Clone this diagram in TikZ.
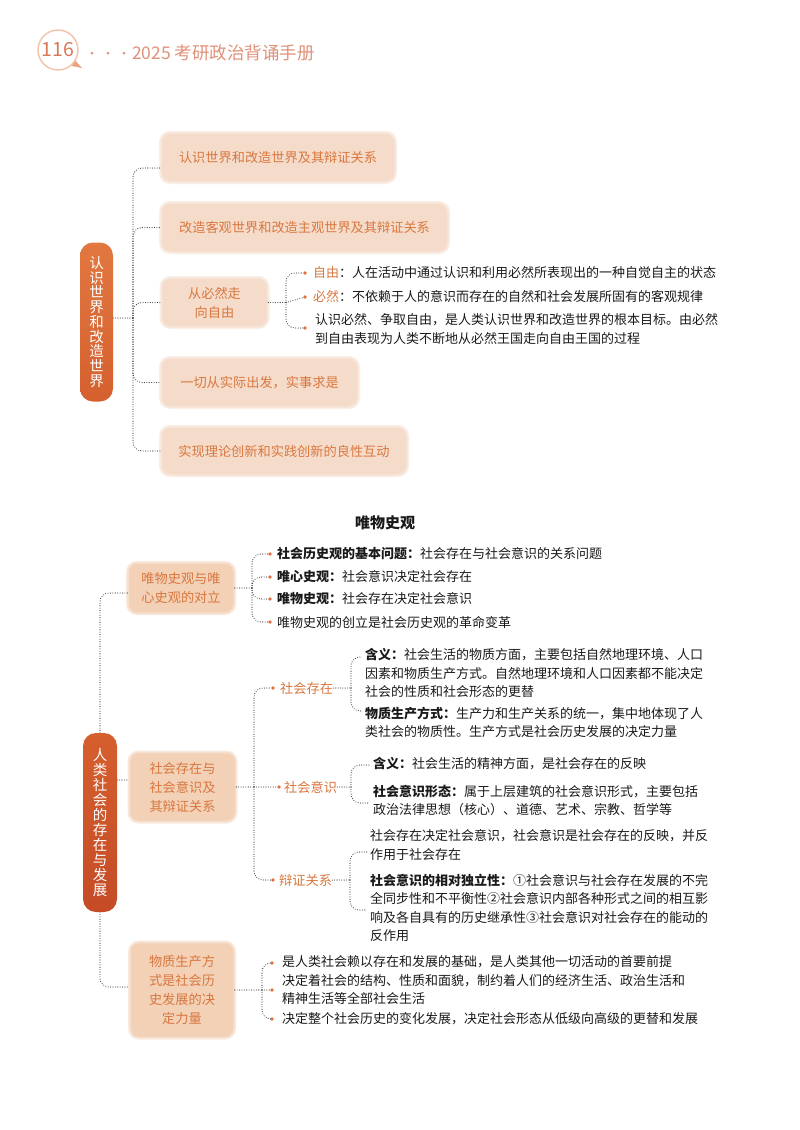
\documentclass[tikz,border=0pt]{standalone}
\usepackage{fontspec}
\setmainfont{Noto Sans CJK SC}
\definecolor{dotc}{HTML}{383838}
\definecolor{oranget}{HTML}{D9773F}
\definecolor{bulc}{HTML}{E2703A}
\definecolor{peachA}{HTML}{F5DCCA}
\definecolor{peachB}{HTML}{F2D1B7}
\definecolor{mainA}{HTML}{E27740}
\definecolor{mainB}{HTML}{D4602E}
\definecolor{mainC}{HTML}{D65F2E}
\definecolor{mainD}{HTML}{C44B26}
\definecolor{hdr}{HTML}{E0917A}
\definecolor{hdrring}{HTML}{F3C2AC}
\definecolor{hdrnum}{HTML}{D9785A}
\definecolor{hdrtail}{HTML}{EBA27E}
\definecolor{txt}{HTML}{1A1A1A}
\newcommand\mybody{\fontsize{13}{18.5}\selectfont}
\newcommand\mybox{\fontsize{13.2}{19}\selectfont}
\newcommand\myvA{\fontsize{14.5}{14.75}\selectfont}
\newcommand\myvB{\fontsize{14.5}{15}\selectfont}
\begin{document}
\begin{tikzpicture}[x=1pt,y=-1pt,
  dotlink/.style={draw=dotc, line width=1.1pt, dash pattern=on 0pt off 2.4pt, line cap=round, rounded corners=9pt},
  topbox/.style={fill=peachA, draw=peachA!70!white, line width=1.5pt, rounded corners=9pt, inner sep=0pt,
     text=oranget, font=\mybox, align=center, preaction={draw=peachA!45!white, line width=4pt}},
  botbox/.style={fill=peachB, draw=peachB!70!white, line width=1.5pt, rounded corners=9pt, inner sep=0pt,
     text=oranget, font=\mybox, align=center, preaction={draw=peachB!45!white, line width=4pt}},
  mainboxA/.style={rounded corners=13pt, inner sep=0pt, text=white, font=\myvA, align=center,
     top color=mainA, bottom color=mainB},
  mainboxB/.style={rounded corners=13pt, inner sep=0pt, text=white, font=\myvB, align=center,
     top color=mainC, bottom color=mainD},
  bul/.style={circle, fill=bulc, inner sep=0pt, minimum size=3.8pt},
  itm/.style={anchor=west, inner sep=0pt, font=\mybody, text=txt, align=left},
  olab/.style={anchor=west, inner sep=0pt, font=\mybox, text=oranget},
  hdot/.style={circle, fill=hdr, inner sep=0pt, minimum size=3pt}
]
\useasboundingbox (0,0) rectangle (800,1130);
\fill[white] (0,0) rectangle (800,1130);

% ---------- header ----------
\fill[hdrtail] (72,57) -- (82,68) -- (67,65) -- cycle;
\node[circle, draw=hdrring, line width=1.4pt, fill=white, minimum size=40pt, inner sep=0pt,
      text=hdrnum, font=\fontsize{19.5}{19.5}\selectfont] (pg) at (58,50) {116};
\node[hdot] (hd1) at (92,53) {};
\node[hdot] (hd2) at (108,53) {};
\node[hdot] (hd3) at (124,53) {};
\node[anchor=west, inner sep=0pt, text=hdr, font=\fontsize{17.5}{18}\selectfont] (htitle) at (132,53) {2025 考研政治背诵手册};

% ---------- top section ----------
\coordinate (j1) at (133,318);
\coordinate (j3) at (286,302.5);
\node[topbox, minimum width=234pt, minimum height=49pt] (b1) at (278,157.5) {认识世界和改造世界及其辩证关系};
\node[topbox, minimum width=287pt, minimum height=49pt] (b2) at (304.5,227.5) {改造客观世界和改造主观世界及其辩证关系};
\node[topbox, minimum width=106pt, minimum height=49pt] (b3) at (214.5,302.5) {从必然走\\向自由};
\node[topbox, minimum width=197pt, minimum height=49pt] (b4) at (259.5,382.5) {一切从实际出发，实事求是};
\node[topbox, minimum width=246pt, minimum height=48pt] (b5) at (284,451) {实现理论创新和实践创新的良性互动};

\draw[dotlink] (j1) |- ([shift={(0,10.5)}]b1.west);
\draw[dotlink] (j1) |- (b2.west);
\draw[dotlink] (j1) |- (b3.west);
\draw[dotlink] (j1) |- (b4.west);
\draw[dotlink] (j1) |- (b5.west);

\node[mainboxA, minimum width=33pt, minimum height=159pt] (mb1) at (96.5,322) {认\\识\\世\\界\\和\\改\\造\\世\\界};
\draw[dotlink] ([shift={(0,-4)}]mb1.east) -- (j1);

\node[bul] (bu31) at (305,273) {};
\node[bul] (bu32) at (305,297) {};
\node[bul] (bu33) at (305,328) {};
\node[itm] (t31) at (313,273) {{\color{oranget}自由}：人在活动中通过认识和利用必然所表现出的一种自觉自主的状态};
\node[itm] (t32) at (313,297) {{\color{oranget}必然}：不依赖于人的意识而存在的自然和社会发展所固有的客观规律};
\node[itm] (t33) at (315,329) {认识必然、争取自由，是人类认识世界和改造世界的根本目标。由必然\\到自由表现为人类不断地从必然王国走向自由王国的过程};
\draw[dotlink] (b3.east) -- (j3);
\draw[dotlink] (j3) |- (bu31);
\draw[dotlink] (j3) -- (bu32);
\draw[dotlink] (j3) |- (bu33);

% ---------- bottom section ----------
\node[inner sep=0pt, font=\bfseries\fontsize{15}{15}\selectfont, text=txt] (title) at (385,523) {唯物史观};

\node[botbox, minimum width=106pt, minimum height=50pt] (B1) at (181,588) {唯物史观与唯\\心史观的对立};
\node[botbox, minimum width=106pt, minimum height=69pt] (B2) at (182.5,787) {社会存在与\\社会意识及\\其辩证关系};
\node[botbox, minimum width=104pt, minimum height=95pt] (B3) at (182,990) {物质生产方\\式是社会历\\史发展的决\\定力量};

\coordinate (mtop) at (100,733);
\coordinate (mbot) at (100,912);
\draw[dotlink] ([shift={(0,5)}]B1.west) -| (mtop);
\draw[dotlink] (mbot) |- ([shift={(0,-3)}]B3.west);
\node[mainboxB, minimum width=34pt, minimum height=179pt] (mb2) at (100,822.5) {人\\类\\社\\会\\的\\存\\在\\与\\发\\展};
\draw[dotlink] ([shift={(0,-42.5)}]mb2.east) -- ([shift={(0,-7)}]B2.west);

% B1 items
\coordinate (jB1) at (252,588);
\node[bul] (bb1) at (270,554) {};
\node[bul] (bb2) at (270,577) {};
\node[bul] (bb3) at (270,599) {};
\node[bul] (bb4) at (270,622) {};
\node[itm] (tb1) at (277,554) {{\bfseries 社会历史观的基本问题：}社会存在与社会意识的关系问题};
\node[itm] (tb2) at (277,577) {{\bfseries 唯心史观：}社会意识决定社会存在};
\node[itm] (tb3) at (277,599) {{\bfseries 唯物史观：}社会存在决定社会意识};
\node[itm] (tb4) at (277,622) {唯物史观的创立是社会历史观的革命变革};
\draw[dotlink] (B1.east) -- (jB1);
\draw[dotlink] (jB1) |- (bb1);
\draw[dotlink] (jB1) |- (bb2);
\draw[dotlink] (jB1) |- (bb3);
\draw[dotlink] (jB1) |- (bb4);

% B2 items
\coordinate (jB2) at (254,787);
\node[bul] (bSE) at (273,688) {};
\node[olab] (tSE) at (280,688) {社会存在};
\node[bul] (bSI) at (279,787) {};
\node[olab] (tSI) at (284,787) {社会意识};
\node[bul] (bBZ) at (273,880) {};
\node[olab] (tBZ) at (279,880) {辩证关系};
\draw[dotlink] (B2.east) -- (jB2);
\draw[dotlink] (jB2) |- (bSE);
\draw[dotlink] (jB2) -- (bSI);
\draw[dotlink] (jB2) |- (bBZ);

\coordinate (jSE) at (351,688);
\coordinate (eSE1) at (362,657);
\coordinate (eSE2) at (362,711);
\node[itm] (SE1) at (365,673) {{\bfseries 含义：}社会生活的物质方面，主要包括自然地理环境、人口\\因素和物质生产方式。自然地理环境和人口因素都不能决定\\社会的性质和社会形态的更替};
\node[itm] (SE2) at (365,722.5) {{\bfseries 物质生产方式：}生产力和生产关系的统一，集中地体现了人\\类社会的物质性。生产方式是社会历史发展的决定力量};
\draw[dotlink] (tSE.east) -- (jSE);
\draw[dotlink] (jSE) |- (eSE1);
\draw[dotlink] (jSE) |- (eSE2);

\coordinate (jSI) at (351,787);
\coordinate (eSI1) at (369,765);
\coordinate (eSI2) at (369,803);
\node[itm] (SI1) at (373,764) {{\bfseries 含义：}社会生活的精神方面，是社会存在的反映};
\node[itm] (SI2) at (373,800.5) {{\bfseries 社会意识形态：}属于上层建筑的社会意识形式，主要包括\\政治法律思想（核心）、道德、艺术、宗教、哲学等};
\draw[dotlink] (tSI.east) -- (jSI);
\draw[dotlink] (jSI) |- (eSI1);
\draw[dotlink] (jSI) |- (eSI2);

\coordinate (jBZ) at (350,880);
\coordinate (eBZ1) at (367,852);
\coordinate (eBZ2) at (367,910);
\node[itm] (BZ1) at (370,845) {社会存在决定社会意识，社会意识是社会存在的反映，并反\\作用于社会存在};
\node[itm] (BZ2) at (370,907.75) {{\bfseries 社会意识的相对独立性：}①社会意识与社会存在发展的不完\\全同步性和不平衡性②社会意识内部各种形式之间的相互影\\响及各自具有的历史继承性③社会意识对社会存在的能动的\\反作用};
\draw[dotlink] (tBZ.east) -- (jBZ);
\draw[dotlink] (jBZ) |- (eBZ1);
\draw[dotlink] (jBZ) |- (eBZ2);

% B3 items
\coordinate (jB3) at (262,990);
\node[bul] (bc1) at (272,963) {};
\node[bul] (bc2) at (272,990) {};
\node[bul] (bc3) at (272,1019) {};
\node[itm] (tc1) at (282,962) {是人类社会赖以存在和发展的基础，是人类其他一切活动的首要前提};
\node[itm] (tc2) at (282,989.5) {决定着社会的结构、性质和面貌，制约着人们的经济生活、政治生活和\\精神生活等全部社会生活};
\node[itm] (tc3) at (282,1019) {决定整个社会历史的变化发展，决定社会形态从低级向高级的更替和发展};
\draw[dotlink] (B3.east) -- (jB3);
\draw[dotlink] (jB3) |- (bc1);
\draw[dotlink] (jB3) -- (bc2);
\draw[dotlink] (jB3) |- (bc3);
\end{tikzpicture}
\end{document}
